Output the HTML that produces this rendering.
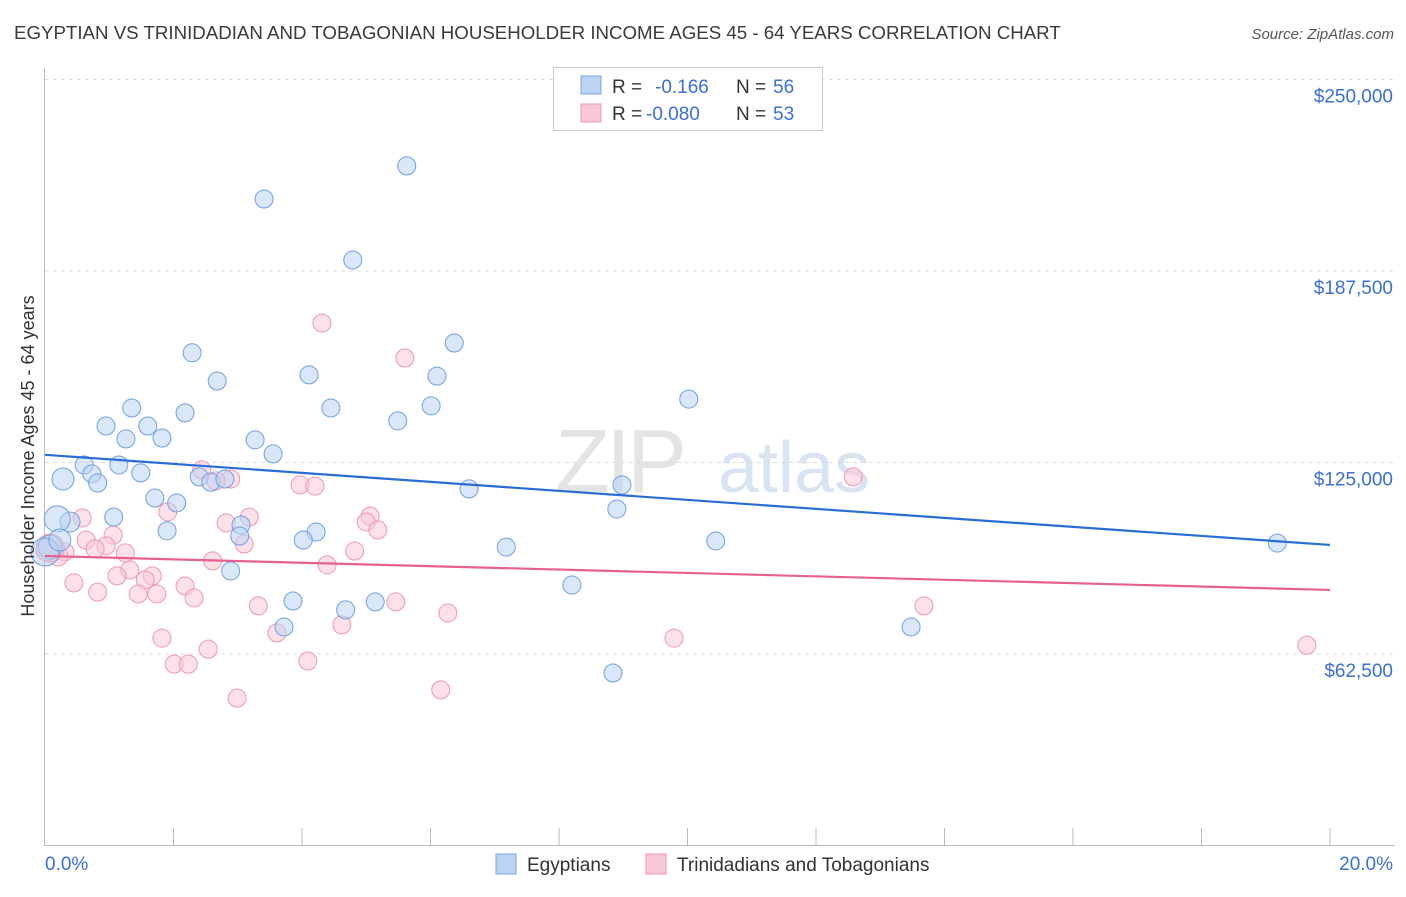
<!DOCTYPE html>
<html><head><meta charset="utf-8"><style>
body{margin:0;background:#fff;font-family:"Liberation Sans",sans-serif;}
svg text{font-family:"Liberation Sans",sans-serif;}
</style></head><body>
<svg id="chart" width="1406" height="892" viewBox="0 0 1406 892" xmlns="http://www.w3.org/2000/svg">
<text x="14" y="39" font-size="18.7" fill="#3a3a3a">EGYPTIAN VS TRINIDADIAN AND TOBAGONIAN HOUSEHOLDER INCOME AGES 45 - 64 YEARS CORRELATION CHART</text>
<text x="1394" y="39" font-size="15" fill="#555" font-style="italic" text-anchor="end">Source: ZipAtlas.com</text>
<g>
<text x="555" y="492" font-size="90" fill="#e4e4e4" font-family="Liberation Serif" letter-spacing="-4">ZIP</text>
<text x="718" y="492" font-size="72" fill="#d8e4f2">atlas</text>
</g>
<g id="grid"></g>
<g id="axes"></g>
<g id="marks"></g>
<g>
<rect x="553.5" y="67.5" width="269" height="63" fill="#fff" stroke="#ccc"/>
<rect x="581" y="76" width="20" height="18" fill="#bcd3f3" stroke="#7aa6e6"/>
<rect x="581" y="104" width="20" height="18" fill="#f9c8d7" stroke="#ee98b2"/>
<text x="612" y="93" font-size="19" fill="#333">R =</text>
<text x="655" y="93" font-size="19" fill="#3a6fd8">-0.166</text>
<text x="736" y="93" font-size="19" fill="#333">N =</text>
<text x="773" y="93" font-size="19" fill="#3a6fd8">56</text>
<text x="612" y="120" font-size="19" fill="#333">R =</text>
<text x="646" y="120" font-size="19" fill="#3a6fd8">-0.080</text>
<text x="736" y="120" font-size="19" fill="#333">N =</text>
<text x="773" y="120" font-size="19" fill="#3a6fd8">53</text>
</g>
<g>
<rect x="496" y="854" width="20" height="20" fill="#bcd3f3" stroke="#7aa6e6"/>
<text x="527" y="871" font-size="19" fill="#333">Egyptians</text>
<rect x="646" y="854" width="20" height="20" fill="#f9c8d7" stroke="#ee98b2"/>
<text x="677" y="871" font-size="19" fill="#333">Trinidadians and Tobagonians</text>
</g>
<text transform="translate(34,456) rotate(-90)" font-size="18" fill="#333" text-anchor="middle">Householder Income Ages 45 - 64 years</text>
</svg>
<script>
const yTicks=[62500,125000,187500,250000];
const yTickLabels=["$62,500","$125,000","$187,500","$250,000"];
const xTickLabels=["0.0%","20.0%"];
const blueX=[5.63,3.41,4.79,2.29,6.37,4.11,2.68,6.10,1.35,2.18,4.45,5.49,6.01,10.02,0.95,1.60,1.26,1.82,3.27,3.55,1.15,0.61,0.28,0.73,0.82,1.49,2.40,2.58,2.80,6.60,8.98,1.71,2.05,1.07,0.39,0.19,1.90,3.05,8.90,4.22,4.02,3.03,7.18,10.44,19.18,2.89,8.20,3.86,4.68,5.14,3.72,13.48,8.84,0.08,0.0,0.23];
const blueY=[221800,211000,191100,160800,164000,153600,151600,153200,142800,141200,142800,138600,143500,145700,136900,136900,132700,133000,132400,127800,124200,124200,119600,121300,118300,121600,120300,118600,119600,116400,117700,113400,111800,107200,105600,106600,102700,104600,109800,102300,99700,101000,97400,99400,98700,89600,85000,79800,76900,79500,71300,71300,56300,97400,95800,99700];
const blueR=[9,9,9,9,9,9,9,9,9,9,9,9,9,9,9,9,9,9,9,9,9,9,11,9,9,9,9,9,9,9,9,9,9,9,10,13,9,9,9,9,9,9,9,9,9,9,9,9,9,9,9,9,9,12,14,11];
const pinkX=[4.31,5.60,12.58,2.44,2.89,2.66,3.97,4.20,0.58,1.91,3.18,2.82,5.06,5.00,5.18,1.06,0.64,3.10,0.95,0.78,1.25,4.82,0.31,0.20,2.61,4.39,1.32,1.12,1.67,1.56,2.18,0.45,0.82,1.45,1.74,2.32,3.32,5.46,13.68,6.27,4.62,3.61,1.82,9.79,2.54,2.01,2.23,4.09,19.64,6.16,2.99,0.08,0.03];
const pinkY=[170500,159100,120300,122600,119600,119000,117700,117300,106900,108900,107200,105300,107500,105600,103000,101300,99700,98400,97800,96800,95500,96100,95800,94500,92900,91600,89900,88000,88000,86700,84700,85700,82700,82100,82100,80800,78200,79500,78200,75900,72000,69400,67700,67700,64100,59200,59200,60200,65400,50800,48100,97100,96500];
const pinkR=[9,9,9,9,9,9,9,9,9,9,9,9,9,9,9,9,9,9,9,9,9,9,9,10,9,9,9,9,9,9,9,9,9,9,9,9,9,9,9,9,9,9,9,9,9,9,9,9,9,9,9,14,11];
const blueTrend=[127500,98100];
const pinkTrend=[94500,83400];
const NS="http://www.w3.org/2000/svg";
const X0=45,X1=1330,YB=845.5,YPX=191.5/62500;
function sx(v){return X0+(v/20)*(X1-X0);}
function sy(v){return YB-v*YPX;}
function mk(tag,attrs,parent){const e=document.createElementNS(NS,tag);for(const k in attrs)e.setAttribute(k,attrs[k]);parent.appendChild(e);return e;}
const gridG=document.getElementById('grid'),axesG=document.getElementById('axes'),marksG=document.getElementById('marks');
yTicks.forEach((t,i)=>{
  const l=mk('line',{x1:45,x2:1395,y1:sy(t),y2:sy(t),stroke:'#dcdcdc','stroke-dasharray':'4,4'},gridG);
  
  
  const tx=mk('text',{x:1393,y:sy(t)+23,'font-size':19,fill:'#3a6fd8','text-anchor':'end'},axesG);
  tx.textContent=yTickLabels[i];
  
  
});
const topGrid=mk('line',{x1:45,x2:1395,y1:79.5,y2:79.5,stroke:'#dcdcdc','stroke-dasharray':'4,4'},gridG);


const ya=mk('line',{x1:44.5,x2:44.5,y1:68,y2:846,stroke:'#bbb'},axesG);


const xa=mk('line',{x1:44,x2:1395,y1:845.5,y2:845.5,stroke:'#bbb'},axesG);


for(let i=1;i<=10;i++){
  const t=mk('line',{x1:sx(i*2),x2:sx(i*2),y1:828,y2:845,stroke:'#bbb'},axesG);
  
  
}
const xl0=mk('text',{x:45,y:870,'font-size':19,fill:'#3a6fd8'},axesG);
xl0.textContent=xTickLabels[0];


const xl1=mk('text',{x:1393,y:870,'font-size':19,fill:'#3a6fd8','text-anchor':'end'},axesG);
xl1.textContent=xTickLabels[1];


function pts(xs,ys,rs,fill,stroke,name){
  xs.forEach((v,i)=>{
    const c=mk('circle',{cx:sx(v),cy:sy(ys[i]),r:rs[i],fill:fill,'fill-opacity':0.55,stroke:stroke,'stroke-width':1},marksG);
    
    
  });
}
pts(pinkX,pinkY,pinkR,'#f9c8d7','#ee98b2','trinidadian-point');
pts(blueX,blueY,blueR,'#bcd3f3','#6f9fe3','egyptian-point');
const bt=mk('line',{x1:sx(0),y1:sy(blueTrend[0]),x2:sx(20),y2:sy(blueTrend[1]),stroke:'#2a6dd6','stroke-width':2.2},marksG);


const pt=mk('line',{x1:sx(0),y1:sy(pinkTrend[0]),x2:sx(20),y2:sy(pinkTrend[1]),stroke:'#e8608e','stroke-width':2.2},marksG);


</script>
</body></html>
